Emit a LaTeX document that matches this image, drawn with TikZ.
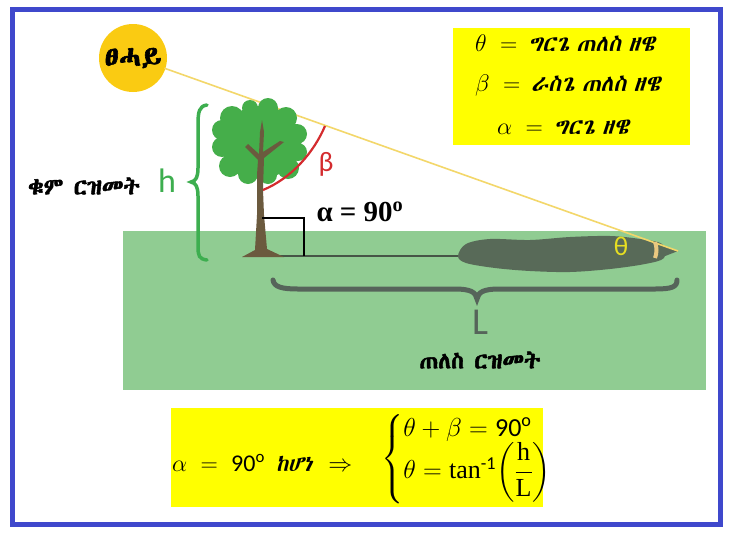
\RequirePackage{fix-cm}
\documentclass[tikz,border=0pt]{standalone}
\usepackage{amsmath}
\usepackage{fontspec}
\setmainfont{Carlito}
\newfontfamily\serifbold{Liberation Serif}
\newcommand\defeth[1]{\newfontfamily\ethfont{#1}\newfontfamily\ethbf[FakeBold=2.2]{#1}\newfontfamily\ethit[FakeSlant=0.22,WordSpace=0.7]{#1}}
\IfFontExistsTF{Abyssinica SIL}{\defeth{Abyssinica SIL}}{\IfFontExistsTF{FreeSerif}{\defeth{FreeSerif}}{\IfFontExistsTF{FreeSans}{\defeth{FreeSans}}{\defeth{DejaVu Sans}}}}
\definecolor{borderblue}{HTML}{3F48CC}
\definecolor{sungold}{HTML}{FACB12}
\definecolor{rayyellow}{HTML}{F3D76A}
\definecolor{boxyellow}{HTML}{FFFF00}
\definecolor{groundc}{HTML}{90CC92}
\definecolor{treegreen}{HTML}{45AE4A}
\definecolor{trunkc}{HTML}{6B5A3E}
\definecolor{bracegreen}{HTML}{3DAE4F}
\definecolor{betared}{HTML}{D42B2E}
\definecolor{shadowc}{HTML}{586A58}
\definecolor{thetay}{HTML}{E6DE22}
\definecolor{tanarc}{HTML}{E9C880}
\definecolor{graybrace}{HTML}{56645A}
\begin{document}
\begin{tikzpicture}[x=1pt,y=-1pt,
  ethbold/.style={font=\ethbf\fontsize{23}{26}\selectfont},
  boxtext/.style={font=\fontsize{24}{28}\selectfont},
  eqtext/.style={font=\fontsize{26}{29}\selectfont},
  yellowbox/.style={fill=boxyellow,draw=none}]
\useasboundingbox (0,0) rectangle (731,533);
\fill[white] (0,0) rectangle (731,533);
% ground
\fill[groundc] (123,231) rectangle (706,390);
% yellow boxes
\fill[yellowbox] (453,28) rectangle (690,145);
\fill[yellowbox] (171,408) rectangle (543,507);
% shadow on ground
\draw[shadowc!80!black,line width=2pt] (250,256) -- (462,256);
\fill[shadowc] plot[smooth cycle,tension=0.55] coordinates {(458,256) (466,244) (490,239) (530,240) (570,237) (610,236) (640,239) (662,244) (664,258) (645,264) (610,269) (570,272) (530,271) (495,268) (466,263)};
\fill[shadowc] (655,243) -- (678,251) -- (655,260) -- cycle;
% sun ray
\node[circle,fill=sungold,minimum size=68pt,inner sep=0pt] (sun) at (133,58) {};
\coordinate (tip) at (678,251);
\draw[rayyellow,line width=1.6pt] (sun.center) ++(-18pt:33pt) -- (tip);
\node[font=\ethbf\fontsize{29}{31}\selectfont] (sunlabel) at (133,58) {ፀሓይ};
% tree canopy
\fill[treegreen] (261,142) ellipse (40 and 36)
  (232,118) circle (12) (250,108) circle (8) (268,108) circle (10) (286,118) circle (11) (297,134) circle (10) (298,152) circle (9) (288,168) circle (11) (268,175) circle (9) (248,174) circle (10) (230,166) circle (11) (222,147) circle (10) (222,130) circle (10);
% trunk
\fill[trunkc] (242,257) -- (255,250) -- (257,215) -- (257,175) -- (258,160) -- (245,147) -- (248,144) -- (259,154) -- (260,132) -- (262,120) -- (264,132) -- (263,152) -- (280,141) -- (284,142) -- (264,158) -- (263,190) -- (264,215) -- (267,249) -- (284,257) -- cycle;
% beta arc
\draw[betared,line width=2.2pt] (263,190) .. controls (292,178) and (314,152) .. (325,126);
\node[text=betared,font=\fontsize{28}{30}\selectfont] (beta) at (326,164) {β};
% right angle
\draw[black,line width=2.6pt] (262,218) -- (304,218) -- (304,256);
\node[font=\serifbold\bfseries\fontsize{29}{32}\selectfont,anchor=west] (alpha) at (313,212) {α = 90\textsuperscript{o}};
% theta
\node[text=thetay,font=\fontsize{27}{30}\selectfont] (theta) at (621,246) {θ};
\draw[tanarc,line width=4pt] (655,242) .. controls (657,247) and (657,253) .. (655,258);
% green brace h
\draw[bracegreen,line width=3.5pt,line cap=round] (207,105) .. controls (199,106) and (198,112) .. (198,125) -- (198,168) .. controls (198,177) and (196,181) .. (191,182) .. controls (196,183) and (198,187) .. (198,196) -- (198,246) .. controls (198,256) and (199,259) .. (207,260);
\node[text=bracegreen,font=\fontsize{34}{36}\selectfont] (h) at (167,181) {h};
\node[ethbold] (hlabel) at (84,186) {ቁም ርዝመት};
% gray brace L
\draw[graybrace,line width=5pt,line cap=round] (273,280) .. controls (274,287) and (282,289) .. (298,289) -- (455,289) .. controls (470,289) and (476,292) .. (477,299) .. controls (478,292) and (484,289) .. (499,289) -- (655,289) .. controls (672,289) and (677,287) .. (677,280);
\node[text=graybrace,font=\fontsize{38}{40}\selectfont] (L) at (480,322) {L};
\node[ethbold] (shadowlabel) at (480,360) {ጠለስ ርዝመት};
% top box text
\node[boxtext,anchor=west,inner sep=0pt] (t1) at (475,43) {$\theta\;=\;$\,{\ethit\fontsize{23}{26}\selectfont ግርጌ ጠለስ ዘዌ}};
\node[boxtext,anchor=west,inner sep=0pt] (t2) at (475,85) {$\beta\;=\;$\,{\ethit\fontsize{23}{26}\selectfont ራስጌ ጠለስ ዘዌ}};
\node[boxtext,anchor=west,inner sep=0pt] (t3) at (497,127) {$\alpha\;=\;$\,{\ethit\fontsize{23}{26}\selectfont ግርጌ ዘዌ}};
% bottom box
\node[boxtext,anchor=west,inner sep=0pt] (b1) at (172,463) {$\alpha\;=\;\mathrm{90}^{\mathrm{o}}$\ \ {\ethit\fontsize{22}{26}\selectfont ከሆነ}\ \ \ $\Rightarrow$};
\node[eqtext,anchor=west,inner sep=0pt] (b2) at (381,459) {$\left\{\begin{array}{@{}l@{}}\theta+\beta = \mathrm{90}^{\mathrm{o}}\\[-3pt] \theta = \mbox{\serifbold tan}^{\text{-1}}\!\left(\dfrac{\mbox{\serifbold h}}{\mbox{\serifbold L}}\right)\end{array}\right.$};
% border
\draw[borderblue,line width=5pt] (12.5,9) rectangle (720,524);
\end{tikzpicture}
\end{document}
